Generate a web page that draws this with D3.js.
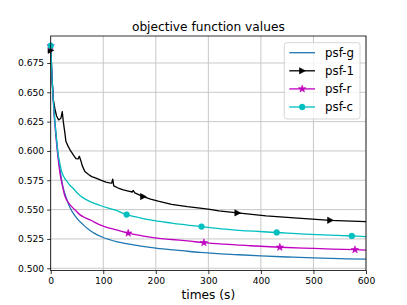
<!DOCTYPE html>
<html>
<head>
<meta charset="utf-8">
<script src="https://cdn.jsdelivr.net/npm/d3@7"></script>
<style>
  body { margin: 0; background: #fff; }
  svg { font-family: "DejaVu Sans", sans-serif; }
</style>
</head>
<body>
<div id="vis"></div>
<script>
// series: [time (s), objective value]
var psfG = [[0,0.689],[3,0.660],[6,0.637],[10,0.615],[14,0.597],[18,0.583],[23,0.570],[30,0.5595],
  [38,0.5505],[45,0.5455],[52,0.5415],[62,0.537],[73,0.5328],[84,0.5295],[100,0.5262],[125,0.5228],
  [150,0.5205],[200,0.5172],[250,0.5150],[284,0.5135],[350,0.5117],[400,0.5105],[450,0.5096],
  [500,0.5088],[550,0.5082],[600,0.5077]];

var psf1 = [[0,0.6858],[2,0.665],[5,0.6436],[8,0.636],[11,0.630],[15,0.6265],[17,0.627],[19.5,0.628],
  [22,0.6336],[24,0.625],[27,0.6152],[29,0.608],[33.5,0.6037],[38,0.600],[44,0.596],[48,0.5935],
  [52,0.5932],[54.5,0.5955],[57.5,0.5915],[60,0.5875],[65,0.5824],[72,0.5800],[78,0.5781],[85,0.577],
  [94,0.5753],[105,0.5735],[112,0.5728],[116,0.5725],[118,0.5759],[120,0.5702],[130,0.5680],
  [138,0.5668],[150,0.5655],[155,0.5650],[157,0.5663],[160,0.5643],[176,0.5611],[190,0.559],
  [204.5,0.5572],[230,0.5545],[260,0.5525],[284,0.5512],[303,0.5502],[320,0.5490],[355.5,0.5472],
  [410,0.5446],[470,0.5428],[532,0.5409],[600,0.5398]];

var psfR = [[0,0.6895],[3,0.658],[6,0.634],[10,0.612],[14,0.594],[18,0.580],[23,0.569],[27,0.5615],
  [33,0.5565],[40,0.5525],[48,0.549],[56,0.5455],[66,0.543],[75,0.5412],[94,0.537],[110,0.5345],
  [125,0.5327],[147.5,0.5299],[170,0.528],[189,0.5265],[230,0.5245],[260,0.5233],[291.5,0.5218],
  [330,0.5205],[380,0.5192],[436,0.5179],[500,0.5169],[579,0.5158],[600,0.5155]];

var psfC = [[0,0.6897],[3,0.658],[6,0.636],[10,0.615],[14,0.598],[18,0.588],[22,0.581],[26,0.577],
  [31,0.574],[37,0.5705],[43,0.568],[52,0.5635],[62,0.560],[75,0.5568],[94,0.5535],[122,0.5497],
  [144.5,0.5458],[170,0.543],[189,0.5412],[230,0.5385],[287,0.5355],[347,0.5327],[430,0.5305],
  [506,0.5286],[573,0.5275],[600,0.527]];

// times where a marker sits on each curve
var markG = [];
var mark1 = [0, 176, 355.5, 532];
var markR = [0, 147.5, 291.5, 436, 579];
var markC = [0, 144.5, 287, 430, 573];

var names = ["psf-g", "psf-1", "psf-r", "psf-c"];
var xTicks = [0, 100, 200, 300, 400, 500, 600];
var yTicks = [0.500, 0.525, 0.550, 0.575, 0.600, 0.625, 0.650, 0.675];

var series = [
  {name: names[0], data: psfG, marks: markG, color: "#1f77b4", marker: "none", smooth: true},
  {name: names[1], data: psf1, marks: mark1, color: "#000000", marker: "tri", smooth: false},
  {name: names[2], data: psfR, marks: markR, color: "#bf00bf", marker: "star", smooth: true},
  {name: names[3], data: psfC, marks: markC, color: "#00bfbf", marker: "circle", smooth: true}
];

var W = 407, H = 305;
var pL = 50.7, pR = 366, pT = 36, pB = 270.6;

var svg = d3.select("#vis").append("svg").attr("width", W).attr("height", H);

var x = d3.scaleLinear().domain([0, 600]).range([pL, pR]);
var y = d3.scaleLinear().domain([0.498, 0.698]).range([pB, pT]);

// grid
svg.append("g").selectAll("line").data(xTicks).enter().append("line")
  .attr("x1", function(d){ return x(d); }).attr("x2", function(d){ return x(d); })
  .attr("y1", pT).attr("y2", pB)
  .attr("stroke", "#c8c8c8").attr("stroke-width", 1);
svg.append("g").selectAll("line").data(yTicks).enter().append("line")
  .attr("y1", function(d){ return y(d); }).attr("y2", function(d){ return y(d); })
  .attr("x1", pL).attr("x2", pR)
  .attr("stroke", "#c8c8c8").attr("stroke-width", 1);

// axes
var xAxis = svg.append("g").attr("transform", "translate(0," + pB + ")")
  .call(d3.axisBottom(x).tickValues(xTicks).tickSize(3.5).tickPadding(3).tickFormat(d3.format("d")));
var yAxis = svg.append("g").attr("transform", "translate(" + pL + ",0)")
  .call(d3.axisLeft(y).tickValues(yTicks).tickSize(3.5).tickPadding(3).tickFormat(d3.format(".3f")));
[xAxis, yAxis].forEach(function(a){
  a.select(".domain").remove();
  a.selectAll("text").attr("font-size", "9.2px").attr("fill", "#000")
    .attr("font-family", "DejaVu Sans, sans-serif");
  a.selectAll("line").attr("stroke", "#000").attr("stroke-width", 0.8);
});

svg.append("clipPath").attr("id", "clip").append("rect")
  .attr("x", pL).attr("y", pT).attr("width", pR - pL).attr("height", pB - pT);

var plot = svg.append("g").attr("clip-path", "url(#clip)");

function markerPath(kind){
  if(kind === "tri") return "M-2.7,-3.1L3.1,0L-2.7,3.1Z";
  if(kind === "star") return d3.symbol().type(d3.symbolStar).size(17)();
  if(kind === "circle") return d3.symbol().type(d3.symbolCircle).size(26)();
  return null;
}

series.forEach(function(s){
  var line = d3.line()
    .x(function(d){ return x(d[0]); })
    .y(function(d){ return y(d[1]); })
    .curve(s.smooth ? d3.curveMonotoneX : d3.curveLinear);
  plot.append("path").datum(s.data)
    .attr("d", line)
    .attr("fill", "none").attr("stroke", s.color).attr("stroke-width", 1.3)
    .attr("stroke-linejoin", "round");
  var pts = s.marks.map(function(t){
    return s.data.filter(function(p){ return p[0] === t; })[0];
  });
  svg.append("g").selectAll("path").data(pts).enter().append("path")
    .attr("d", markerPath(s.marker))
    .attr("transform", function(d){ return "translate(" + x(d[0]) + "," + y(d[1]) + ")"; })
    .attr("fill", s.color).attr("stroke", s.color).attr("stroke-width", 0.6);
});

// frame
svg.append("rect").attr("x", pL).attr("y", pT)
  .attr("width", pR - pL).attr("height", pB - pT)
  .attr("fill", "none").attr("stroke", "#000").attr("stroke-width", 0.8);

// title and label
svg.append("text").attr("x", (pL + pR) / 2).attr("y", 30.5)
  .attr("text-anchor", "middle").attr("font-size", "12.2px").text("objective function values");
svg.append("text").attr("x", (pL + pR) / 2).attr("y", 298.5)
  .attr("text-anchor", "middle").attr("font-size", "12.2px").text("times (s)");

// legend
var lg = svg.append("g");
lg.append("rect").attr("x", 284.3).attr("y", 42.7).attr("width", 75.7).attr("height", 76.3)
  .attr("rx", 2.5).attr("fill", "#fff").attr("fill-opacity", 0.8)
  .attr("stroke", "#cccccc").attr("stroke-width", 0.8);
series.forEach(function(s, i){
  var yy = 52.7 + i * 18.1;
  lg.append("line").attr("x1", 289.3).attr("x2", 315).attr("y1", yy).attr("y2", yy)
    .attr("stroke", s.color).attr("stroke-width", 1.3);
  if(s.marker !== "none"){
    lg.append("path").attr("d", markerPath(s.marker))
      .attr("transform", "translate(302.2," + yy + ")")
      .attr("fill", s.color).attr("stroke", s.color).attr("stroke-width", 0.6);
  }
  lg.append("text").attr("x", 325).attr("y", yy + 4.2)
    .attr("font-size", "11.8px").text(s.name);
});
</script>
</body>
</html>
